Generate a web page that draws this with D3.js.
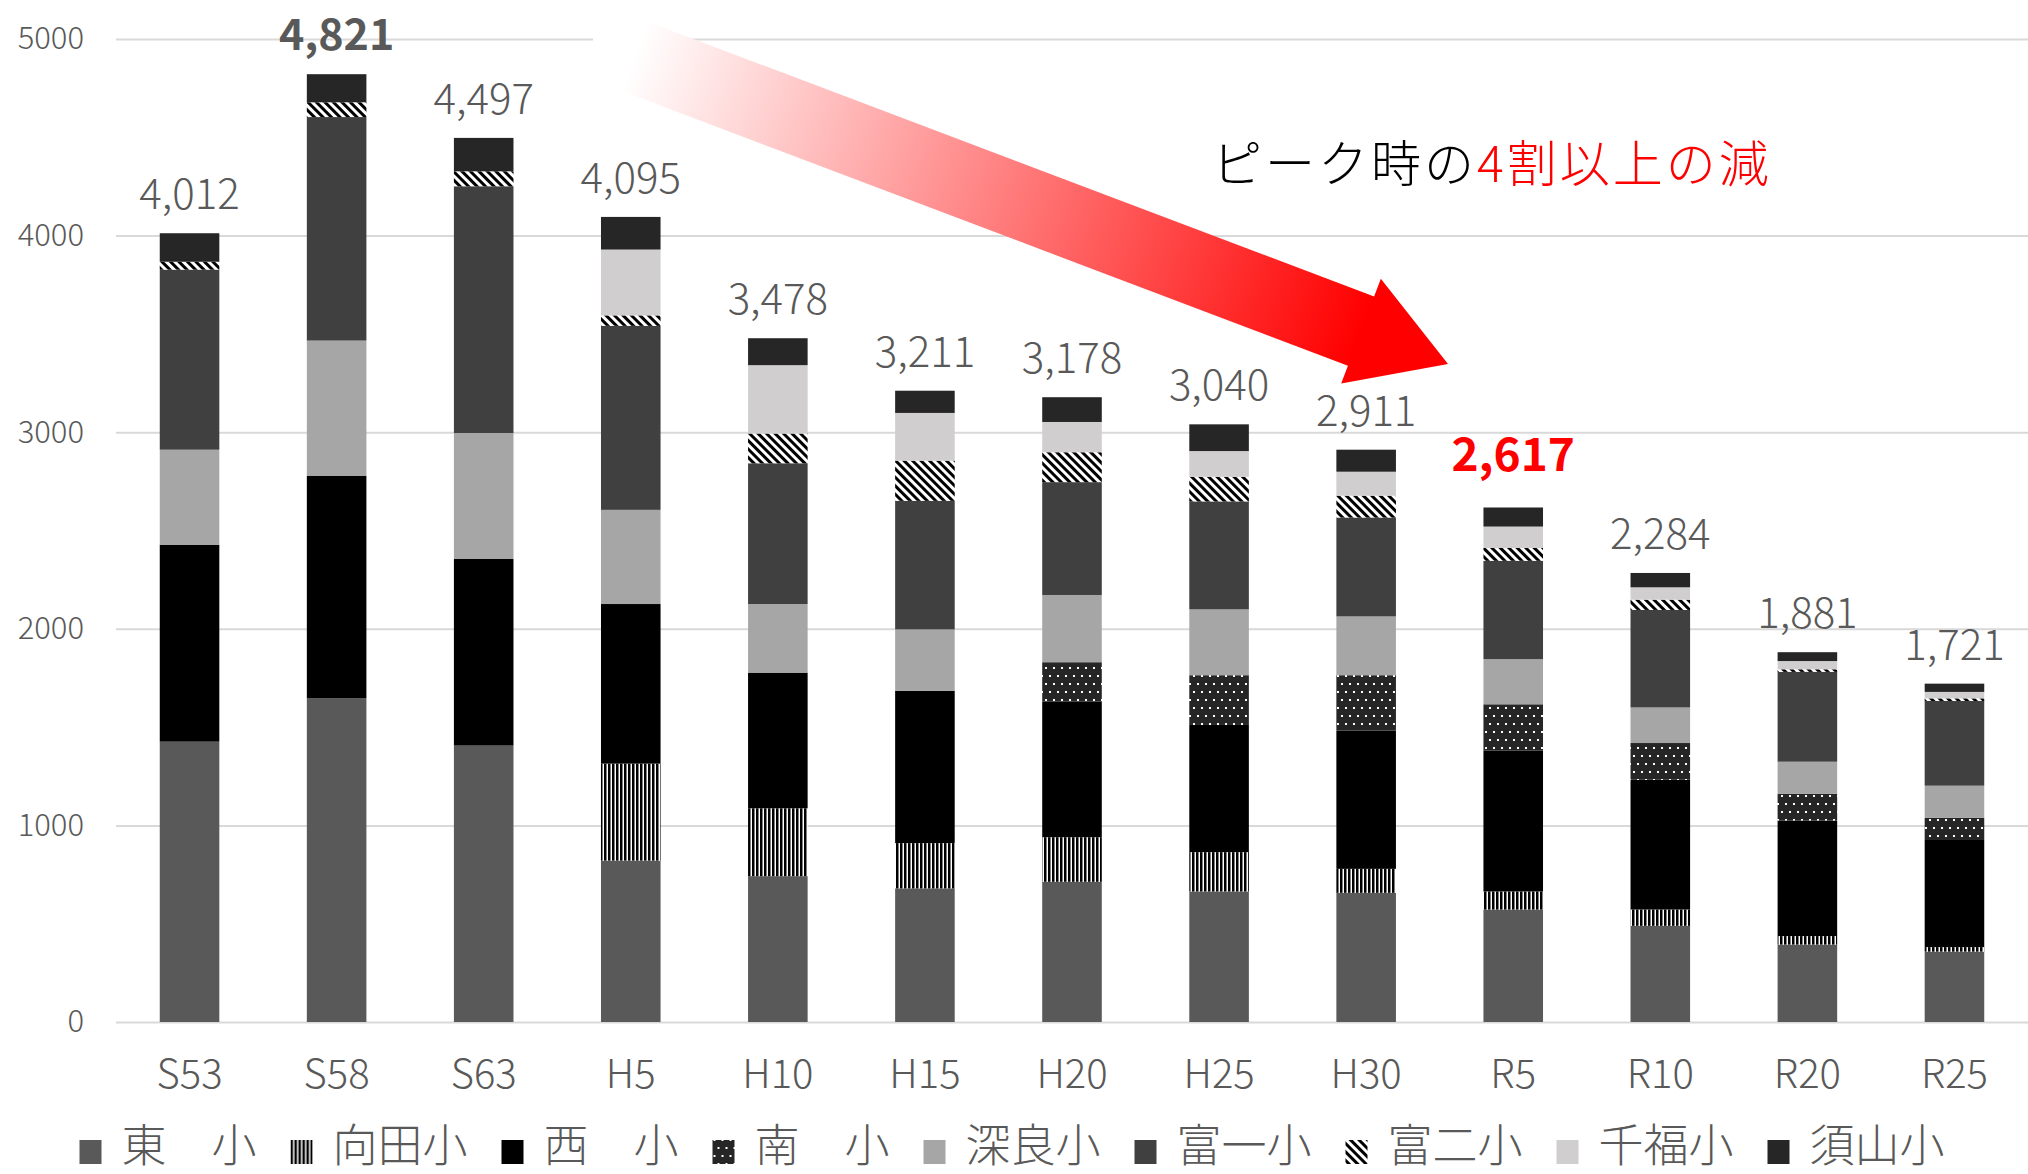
<!DOCTYPE html>
<html>
<head>
<meta charset="utf-8">
<script src="https://cdn.jsdelivr.net/npm/d3@7"></script>
<style>
  html, body { margin: 0; padding: 0; background: #fff; }
  svg { display: block; font-family: "Noto Sans CJK JP", "Noto Sans", sans-serif; }
</style>
</head>
<body>
<svg id="chart"></svg>
<script>
// 年度
const categories = ['S53', 'S58', 'S63', 'H5', 'H10', 'H15', 'H20', 'H25', 'H30', 'R5', 'R10', 'R20', 'R25'];
// 学校（積み上げ順）
const schools = ['東　小', '向田小', '西　小', '南　小', '深良小', '富一小', '富二小', '千福小', '須山小'];

// 児童数
const higashi  = [1426, 1646, 1406, 821, 742, 680, 713, 664, 657, 572, 489, 394, 358];
const mukaida  = [0, 0, 0, 493, 345, 230, 227, 200, 122, 92, 83, 43, 23];
const nishi    = [1002, 1133, 949, 812, 690, 775, 689, 647, 703, 716, 660, 588, 549];
const minami   = [0, 0, 0, 0, 0, 0, 201, 253, 282, 236, 187, 135, 108];
const fukara   = [483, 687, 641, 479, 349, 312, 342, 335, 299, 230, 181, 164, 164];
const tomiichi = [916, 1137, 1255, 936, 716, 654, 574, 549, 503, 500, 496, 457, 431];
const tomini   = [40, 75, 76, 53, 151, 204, 152, 125, 111, 65, 52, 13, 13];
const senpuku  = [0, 0, 0, 335, 348, 243, 154, 131, 122, 109, 63, 42, 33];
const suyama   = [145, 143, 170, 166, 137, 113, 126, 136, 112, 97, 73, 45, 42];

const yTicks = [0, 1000, 2000, 3000, 4000, 5000];
const highlightCat = 'R5';
const note1 = 'ピーク時の', note2 = '4割以上の減';

const seriesValues = [higashi, mukaida, nishi, minami, fukara, tomiichi, tomini, senpuku, suyama];

const width = 2028, height = 1174,
  margin = { top: 39, right: 0, bottom: 152, left: 116 },
  textColor = '#595959',
  gridColor = '#d9d9d9';

const fills = ['#595959', 'url(#p-vline)', '#000000', 'url(#p-dots)', '#a6a6a6',
  '#404040', 'url(#p-diag)', '#d0cece', '#262626'];

const svg = d3.select('#chart').attr('width', width).attr('height', height);
const defs = svg.append('defs');

// patterns
const pv = defs.append('pattern').attr('id', 'p-vline')
  .attr('patternUnits', 'userSpaceOnUse').attr('width', 4).attr('height', 4);
pv.append('rect').attr('width', 4).attr('height', 4).attr('fill', '#fff');
pv.append('rect').attr('width', 2.5).attr('height', 4).attr('fill', '#000');

const pd = defs.append('pattern').attr('id', 'p-diag')
  .attr('patternUnits', 'userSpaceOnUse').attr('width', 6).attr('height', 6)
  .attr('patternTransform', 'rotate(-45)');
pd.append('rect').attr('width', 6).attr('height', 6).attr('fill', '#fff');
pd.append('rect').attr('width', 3).attr('height', 6).attr('fill', '#000');

const pdot = defs.append('pattern').attr('id', 'p-dots')
  .attr('patternUnits', 'userSpaceOnUse').attr('width', 8).attr('height', 16);
pdot.append('rect').attr('width', 8).attr('height', 16).attr('fill', '#262626');
pdot.append('rect').attr('x', 1).attr('y', 3).attr('width', 2).attr('height', 2).attr('fill', '#fff');
pdot.append('rect').attr('x', 5).attr('y', 11).attr('width', 2).attr('height', 2).attr('fill', '#fff');

const innerW = width - margin.left - margin.right,
  plotBottom = 1022;

const x = d3.scaleBand()
  .domain(categories)
  .range([margin.left, width - margin.right])
  .paddingInner(0.595)
  .paddingOuter(0.2975);

const y = d3.scaleLinear().domain([0, 5000]).range([plotBottom, margin.top]);

// gridlines
svg.append('g')
  .attr('transform', `translate(${margin.left},0)`)
  .call(d3.axisLeft(y).tickValues(yTicks).tickSize(-innerW).tickFormat(''))
  .call(g => g.select('.domain').remove())
  .call(g => g.selectAll('line').attr('stroke', gridColor).attr('stroke-width', 2));

// y labels
svg.append('g')
  .attr('transform', `translate(${margin.left},0)`)
  .call(d3.axisLeft(y).tickValues(yTicks).tickSize(0).tickPadding(32).tickFormat(d3.format('d')))
  .call(g => g.select('.domain').remove())
  .call(g => g.selectAll('text')
    .attr('fill', textColor)
    .style('font-size', '31px')
    .style('font-family', '"Noto Sans CJK JP", sans-serif')
    .style('font-weight', 300));

// stacked data
const table = categories.map((c, i) => {
  const row = { cat: c };
  schools.forEach((s, k) => { row[s] = seriesValues[k][i]; });
  return row;
});
const stacked = d3.stack().keys(schools)(table);

svg.append('g').selectAll('g')
  .data(stacked)
  .join('g')
  .attr('fill', (d, k) => fills[k])
  .selectAll('rect')
  .data(d => d)
  .join('rect')
  .attr('x', d => x(d.data.cat))
  .attr('y', d => y(d[1]))
  .attr('width', x.bandwidth())
  .attr('height', d => Math.max(0, y(d[0]) - y(d[1])));

// x axis labels
svg.append('g')
  .attr('transform', `translate(0,${plotBottom})`)
  .call(d3.axisBottom(x).tickSize(0).tickPadding(38))
  .call(g => g.select('.domain').remove())
  .call(g => g.selectAll('text')
    .attr('fill', textColor)
    .style('font-size', '40px')
    .style('font-family', '"Noto Sans CJK JP", sans-serif')
    .style('font-weight', 300));

// totals
const totals = categories.map((c, i) => d3.sum(seriesValues, s => s[i]));
const peak = d3.max(totals);

svg.append('g').selectAll('text')
  .data(categories)
  .join('text')
  .attr('x', d => x(d) + x.bandwidth() / 2)
  .attr('y', (d, i) => y(totals[i]) - (d === highlightCat ? 36 : 24))
  .attr('text-anchor', 'middle')
  .attr('fill', (d, i) => d === highlightCat ? '#ff0000' : textColor)
  .style('font-size', (d, i) => d === highlightCat ? '46px' : totals[i] === peak ? '43px' : '42px')
  .style('font-weight', (d, i) => (d === highlightCat || totals[i] === peak) ? 700 : 300)
  .text((d, i) => d3.format(',')(totals[i]));

// arrow
const T = [634, 56], P = [1448, 364];
const len = Math.hypot(P[0] - T[0], P[1] - T[1]),
  u = [(P[0] - T[0]) / len, (P[1] - T[1]) / len],
  n = [-u[1], u[0]],
  shaftHalf = 37, headHalf = 56, headLen = 93,
  B = [P[0] - headLen * u[0], P[1] - headLen * u[1]];
const pt = (p, k) => [p[0] + k * n[0], p[1] + k * n[1]];

const grad = defs.append('linearGradient').attr('id', 'arrow-grad')
  .attr('gradientUnits', 'userSpaceOnUse')
  .attr('x1', T[0]).attr('y1', T[1]).attr('x2', B[0]).attr('y2', B[1]);
grad.append('stop').attr('offset', 0).attr('stop-color', '#ffffff');
grad.append('stop').attr('offset', 1).attr('stop-color', '#ff0000');

// white box hiding the gridline under the arrow tail
svg.append('rect').attr('x', 593).attr('y', 30).attr('width', 70).attr('height', 20).attr('fill', '#fff');

svg.append('polygon')
  .attr('points', [pt(T, -shaftHalf), pt(B, -shaftHalf), pt(B, -headHalf), P,
    pt(B, headHalf), pt(B, shaftHalf), pt(T, shaftHalf)].map(p => p.join(',')).join(' '))
  .attr('fill', 'url(#arrow-grad)');

// note
const note = svg.append('text')
  .attr('x', 1212).attr('y', 182)
  .style('font-size', '50px')
  .style('letter-spacing', '3px')
  .style('font-weight', 300);
note.append('tspan').attr('fill', '#000').text(note1);
note.append('tspan').attr('fill', '#ff0000').text(note2);

// legend
const itemW = 211, sw = 22;
const legend = svg.append('g')
  .attr('transform', `translate(${(width - (itemW * 8 + sw + 20 + 139)) / 2},0)`);
const item = legend.selectAll('g')
  .data(schools)
  .join('g')
  .attr('transform', (d, k) => `translate(${k * itemW},0)`);
item.append('rect')
  .attr('y', 1140).attr('width', sw).attr('height', 24)
  .attr('fill', (d, k) => fills[k]);
item.append('text')
  .attr('x', sw + 20).attr('y', 1162)
  .attr('fill', textColor)
  .style('font-size', '45px')
  .style('font-weight', 300)
  .text(d => d);
</script>
</body>
</html>
